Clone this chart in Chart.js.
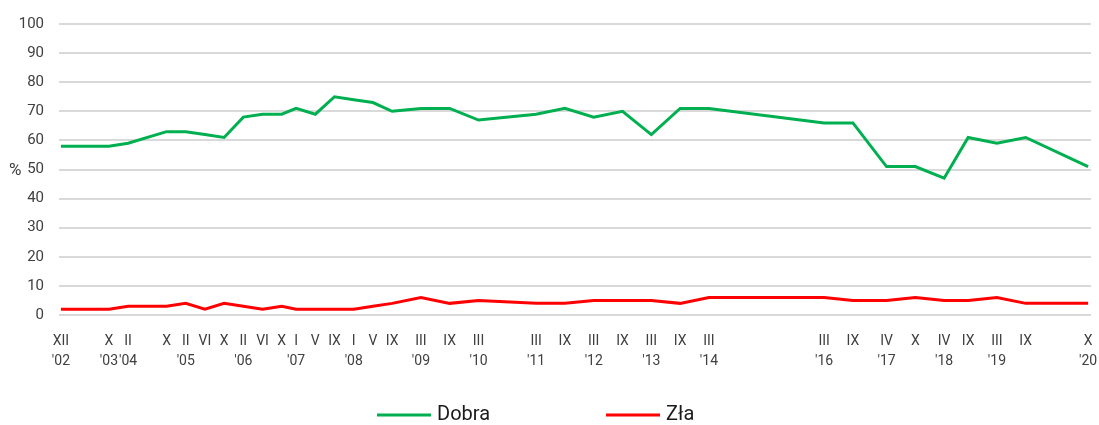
<!DOCTYPE html>
<html>
<head>
<meta charset="utf-8">
<script src="https://cdn.jsdelivr.net/npm/chart.js@4"></script>
<style>
    html, body { margin: 0; padding: 0; background: #fff; }
    #wrap { width: 1099px; height: 425px; position: relative; }
</style>
</head>
<body>
<div id="wrap"><canvas id="opinionChart"></canvas></div>
<script>
// Survey dates (year-month) and their axis labels
const surveyDates = [
    '2002-12', '2003-10', '2004-02', '2004-10', '2005-02', '2005-06', '2005-10',
    '2006-02', '2006-06', '2006-10', '2007-01', '2007-05', '2007-09', '2008-01',
    '2008-05', '2008-09', '2009-03', '2009-09', '2010-03', '2011-03', '2011-09',
    '2012-03', '2012-09', '2013-03', '2013-09', '2014-03', '2016-03', '2016-09',
    '2017-04', '2017-10', '2018-04', '2018-09', '2019-03', '2019-09', '2020-10'
];
const monthLabels = [
    'XII', 'X', 'II', 'X', 'II', 'VI', 'X',
    'II', 'VI', 'X', 'I', 'V', 'IX', 'I',
    'V', 'IX', 'III', 'IX', 'III', 'III', 'IX',
    'III', 'IX', 'III', 'IX', 'III', 'III', 'IX',
    'IV', 'X', 'IV', 'IX', 'III', 'IX', 'X'
];
const yearLabels = [
    "'02", "'03", "'04", '', "'05", '', '',
    "'06", '', '', "'07", '', '', "'08",
    '', '', "'09", '', "'10", "'11", '',
    "'12", '', "'13", '', "'14", "'16", '',
    "'17", '', "'18", '', "'19", '', "'20"
];

// Values in %
const dobra = [
    58, 58, 59, 63, 63, 62, 61,
    68, 69, 69, 71, 69, 75, 74,
    73, 70, 71, 71, 67, 69, 71,
    68, 70, 62, 71, 71, 66, 66,
    51, 51, 47, 61, 59, 61, 51
];
const zla = [
    2, 2, 3, 3, 4, 2, 4,
    3, 2, 3, 2, 2, 2, 2,
    3, 4, 6, 4, 5, 4, 4,
    5, 5, 5, 4, 6, 6, 5,
    5, 6, 5, 5, 6, 4, 4
];

const seriesNames = ['Dobra', 'Zła'];
const seriesColors = ['#00b050', '#ff0000'];

// months elapsed since the first survey
function monthOffset(date) {
    const [y, m] = date.split('-').map(Number);
    const [y0, m0] = surveyDates[0].split('-').map(Number);
    return (y - y0) * 12 + (m - m0);
}
const xValues = surveyDates.map(monthOffset);

function toPoints(values) {
    return values.map((v, i) => ({ x: xValues[i], y: v }));
}

// Legend with line samples, drawn under the plot
const lineLegend = {
    id: 'lineLegend',
    afterDraw(chart) {
        const ctx = chart.ctx;
        const y = 415;
        let x = 377;
        ctx.save();
        ctx.font = '20px Roboto';
        ctx.textBaseline = 'middle';
        ctx.textAlign = 'left';
        chart.data.datasets.forEach(ds => {
            ctx.strokeStyle = ds.borderColor;
            ctx.lineWidth = 3;
            ctx.beginPath();
            ctx.moveTo(x, y);
            ctx.lineTo(x + 54, y);
            ctx.stroke();
            ctx.fillStyle = '#1a1a1a';
            ctx.fillText(ds.label, x + 60, y);
            x += 60 + ctx.measureText(ds.label).width + 116;
        });
        ctx.restore();
    }
};

// "%" unit next to the 50 tick
const unitLabel = {
    id: 'unitLabel',
    afterDraw(chart) {
        const ctx = chart.ctx;
        ctx.save();
        ctx.font = '17px Roboto';
        ctx.fillStyle = '#404040';
        ctx.textBaseline = 'middle';
        ctx.textAlign = 'left';
        ctx.fillText('%', 9, chart.scales.y.getPixelForValue(50) + 1);
        ctx.restore();
    }
};

new Chart(document.getElementById('opinionChart'), {
    type: 'line',
    data: {
        datasets: [
            {
                label: seriesNames[0],
                data: toPoints(dobra),
                borderColor: seriesColors[0],
                backgroundColor: seriesColors[0],
                borderWidth: 3,
                pointRadius: 0,
                tension: 0
            },
            {
                label: seriesNames[1],
                data: toPoints(zla),
                borderColor: seriesColors[1],
                backgroundColor: seriesColors[1],
                borderWidth: 3,
                pointRadius: 0,
                tension: 0
            }
        ]
    },
    options: {
        responsive: true,
        maintainAspectRatio: false,
        animation: false,
        layout: {
            padding: { top: 22, right: 8, bottom: 48, left: 0 }
        },
        scales: {
            x: {
                type: 'linear',
                min: -0.4,
                max: 214.6,
                grid: { display: false, drawTicks: false },
                border: { display: false },
                afterBuildTicks: scale => {
                    scale.ticks = xValues.map(v => ({ value: v }));
                },
                afterFit: scale => {
                    scale.height = 62;
                    scale.paddingLeft = 0;
                    scale.paddingRight = 0;
                },
                ticks: {
                    autoSkip: false,
                    maxRotation: 0,
                    minRotation: 0,
                    padding: 16,
                    color: '#404040',
                    font: { family: 'Roboto', size: 14, lineHeight: 1.45 },
                    callback: (value, index) => [monthLabels[index], yearLabels[index]]
                }
            },
            y: {
                min: 0,
                max: 100,
                grid: { color: '#d9d9d9', lineWidth: 2, drawTicks: false },
                border: { display: false },
                afterFit: scale => {
                    scale.width = 59;
                },
                ticks: {
                    stepSize: 10,
                    padding: 15,
                    color: '#404040',
                    font: { family: 'Roboto', size: 15 }
                }
            }
        },
        plugins: {
            legend: { display: false },
            tooltip: { enabled: false }
        }
    },
    plugins: [lineLegend, unitLabel]
});
</script>
</body>
</html>
